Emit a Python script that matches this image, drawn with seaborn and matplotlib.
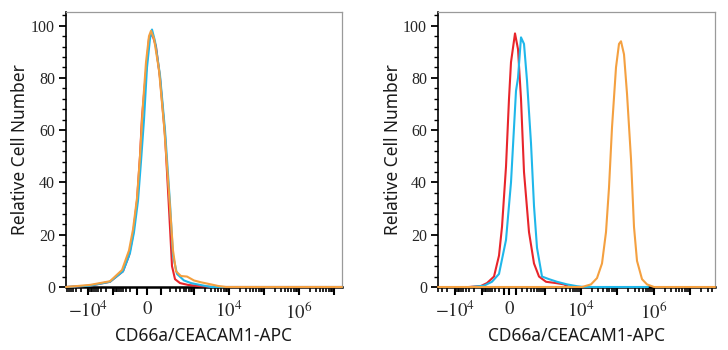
import numpy as np
import pandas as pd
import matplotlib
matplotlib.use('Agg')
import matplotlib.pyplot as plt
import seaborn as sns
from matplotlib.ticker import FixedLocator, FixedFormatter, MultipleLocator, AutoMinorLocator

# x values are positions on the biexponential display axis (0 = left edge)
left_red_x = [0, 24, 44, 57, 63, 67, 71, 74, 76, 79, 83, 86, 90, 94, 99, 103, 106, 109, 114, 122, 134, 150, 276]
left_red_y = [0, 0.5, 2, 6, 12, 20, 33, 50, 65, 78, 95, 97, 92, 80, 58, 30, 8, 3, 1.5, 0.8, 0.3, 0, 0]
left_cyan_x = [0, 24, 44, 57, 64, 68, 72, 75, 78, 81, 84, 86, 89, 94, 99, 104, 107, 111, 118, 125, 134, 145, 276]
left_cyan_y = [0, 0.5, 2, 6, 13, 21, 33, 48, 64, 84, 95, 98.5, 94, 81, 60, 32, 12, 5, 2.5, 1.5, 0.8, 0, 0]
left_orange_x = [0, 24, 44, 56, 63, 67, 71, 74, 77, 80, 83, 85, 88, 93, 98, 103, 107, 110, 115, 121, 128, 135, 145, 152, 160, 276]
left_orange_y = [0, 0.8, 2.2, 6.5, 14, 22, 34, 50, 70, 86, 96, 98, 95, 83, 62, 36, 14, 6, 4.2, 4, 2.5, 1.8, 1, 0.4, 0, 0]

right_red_x = [31, 43, 49, 56, 61, 64, 68, 71, 73, 77, 80, 83, 86, 91, 96, 101, 108, 118, 126, 131]
right_red_y = [0, 0.4, 1.5, 4, 12, 23, 46, 72, 86, 97, 91, 72, 44, 21, 9, 4, 2, 1.5, 1, 0]
right_cyan_x = [33, 46, 54, 61, 68, 73, 78, 80, 83, 86, 89, 93, 96, 99, 104, 111, 119, 129, 139, 146, 210]
right_cyan_y = [0, 0.5, 2, 5, 18, 40, 75, 80, 95.5, 93, 79, 55, 31, 15, 4, 3, 2, 1, 0.3, 0, 0]
right_orange_x = [0, 144, 153, 159, 164, 168, 171, 174, 178, 181, 183, 186, 189, 193, 196, 199, 204, 209, 216, 277]
right_orange_y = [0, 0, 1, 3.4, 9, 21, 38, 61, 84, 93, 94, 89, 74, 49, 23, 10, 3, 1, 0, 0]

tick_values = [-1e4, 0, 1e4, 1e6]
tick_text = [r'$-10^4$', r'$0$', r'$10^4$', r'$10^6$']

panels = [
    dict(width=276, d0=81, a=15.2, b=10.9, c=91,
         curves=[('red', left_red_x, left_red_y), ('cyan', left_cyan_x, left_cyan_y),
                 ('orange', left_orange_x, left_orange_y)]),
    dict(width=277, d0=71, a=15.85, b=11.9, c=213,
         curves=[('red', right_red_x, right_red_y), ('cyan', right_cyan_x, right_cyan_y),
                 ('orange', right_orange_x, right_orange_y)]),
]
palette = {'red': '#e8252b', 'cyan': '#1fb7ea', 'orange': '#f4a040'}

sns.set_theme(style='ticks')
plt.rcParams['font.family'] = ['Liberation Serif', 'DejaVu Serif']
plt.rcParams['mathtext.fontset'] = 'stix'

fig = plt.figure(figsize=(7.28, 3.5), dpi=100)
axes = [fig.add_axes([66 / 728, 63 / 350, 276 / 728, 275 / 350]),
        fig.add_axes([438 / 728, 63 / 350, 277 / 728, 275 / 350])]


def biex(v, p):
    if v >= 0:
        return p['d0'] + p['a'] * np.arcsinh(v / p['c'])
    return p['d0'] - p['b'] * np.arcsinh(-v / p['c'])


for ax, p in zip(axes, panels):
    rows = []
    for name, xs, ys in p['curves']:
        rows += [(name, x, y) for x, y in zip(xs, ys)]
    df = pd.DataFrame(rows, columns=['sample', 'x', 'y'])
    sns.lineplot(data=df, x='x', y='y', hue='sample', palette=palette, estimator=None,
                 sort=False, linewidth=1.5, legend=False, ax=ax, zorder=5, clip_on=False)
    ax.set_xlim(0, p['width'])
    ax.set_ylim(0, 105.2)

    # major ticks at decades, labels on a few of them
    majors = [0] + [s * 10 ** n for n in range(2, 8) for s in (1, -1)]
    maj_pos, maj_lab = [], []
    for v in sorted(majors):
        d = biex(v, p)
        if 0 <= d <= p['width']:
            maj_pos.append(d)
            maj_lab.append(tick_text[tick_values.index(v)] if v in tick_values else '')
    minors = []
    for n in range(2, 8):
        for k in range(2, 10):
            for s in (1, -1):
                d = biex(s * k * 10 ** n, p)
                if 0 <= d <= p['width']:
                    minors.append(d)
    ax.xaxis.set_major_locator(FixedLocator(maj_pos))
    ax.xaxis.set_major_formatter(FixedFormatter(maj_lab))
    ax.xaxis.set_minor_locator(FixedLocator(minors))
    ax.yaxis.set_major_locator(MultipleLocator(20))
    ax.yaxis.set_minor_locator(AutoMinorLocator(5))

    ax.tick_params(axis='x', which='major', length=6, width=1.5, labelsize=13.5, pad=4, color='black')
    ax.tick_params(axis='x', which='minor', length=3.5, width=1.2, color='black')
    ax.tick_params(axis='y', which='major', length=5, width=1.3, labelsize=11.5, pad=3, color='black')
    ax.tick_params(axis='y', which='minor', length=3, width=1.0, color='black')

    for side in ('top', 'right'):
        ax.spines[side].set_visible(True)
        ax.spines[side].set_color('#9a9a9a')
        ax.spines[side].set_linewidth(0.9)
    ax.spines['left'].set_color('black')
    ax.spines['left'].set_linewidth(1.2)
    ax.spines['bottom'].set_color('black')
    ax.spines['bottom'].set_linewidth(1.8)

    ax.set_xlabel('CD66a/CEACAM1-APC', family=['Noto Sans', 'DejaVu Sans'], fontsize=12.5,
                  labelpad=3, color='#1a1a1a')
    ax.set_ylabel('Relative Cell Number', family=['Noto Sans', 'DejaVu Sans'], fontsize=12.5,
                  labelpad=1, color='#1a1a1a')

fig.savefig('out.png', dpi=100, facecolor='white')
